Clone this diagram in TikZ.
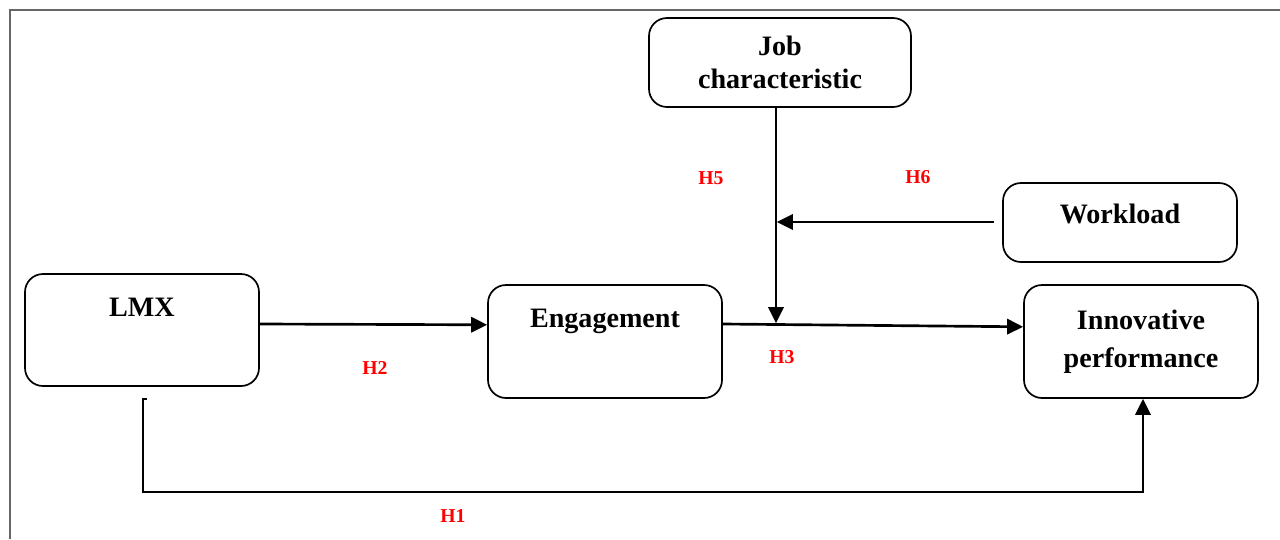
\documentclass[tikz,border=0pt]{standalone}
\usepackage{fontspec}
\setmainfont{Liberation Serif}
\usepackage{tikz}
\usetikzlibrary{arrows.meta, positioning, calc}

\begin{document}
\begin{tikzpicture}[
        box/.style={rectangle, draw=black, line width=1.2pt, fill=white, align=center, rounded corners=0.45cm, minimum width=5.85cm, font=\fontsize{20}{24}\selectfont\bfseries},
        topbox/.style={box, text height=0.5cm, text depth=1.2cm},
        arrow/.style={-{Triangle[length=0.4cm, width=0.38cm]}, line width=1.9pt},
        hyp/.style={text=red, font=\fontsize{14}{16}\selectfont\bfseries}
    ]
        \useasboundingbox (0,0) rectangle (32,-13.475);
        \draw[gray!80!black, line width=1.4pt] (0.25,-13.475) -- (0.25,-0.25) -- (32,-0.25);

        \node[topbox, minimum height=2.8cm] (lmx) at (3.55,-8.25) {LMX};
        \node[topbox, minimum height=2.825cm] (eng) at (15.125,-8.5375) {Engagement};
        \node[box, minimum height=2.825cm, font=\fontsize{20}{27}\selectfont\bfseries] (inn) at (28.525,-8.5375) {Innovative\\performance};
        \node[box, minimum width=6.55cm, minimum height=2.225cm, font=\fontsize{20}{23.5}\selectfont\bfseries] (job) at (19.5,-1.5625) {Job\\characteristic};
        \node[box, minimum height=1.975cm, text height=0.48cm, text depth=0.45cm] (wl) at (28.0,-5.5625) {Workload};

        \coordinate (mod) at (19.4,-8.08);
        \coordinate (modwl) at (19.42,-5.55);

        \draw[arrow] (lmx.east |- 0,-8.1) -- (eng.west |- 0,-8.12);
        \draw[arrow] (eng.east |- 0,-8.1) -- (inn.west |- 0,-8.17);
        \draw[arrow] (job.south -| mod) -- (mod);
        \draw[arrow] ([xshift=-0.2cm]wl.west |- modwl) -- (modwl);
        \draw[arrow] ($(lmx.south)+(0.125,-0.3)$) -- ++(-0.1,0) -- ++(0,-2.325) -| ($(inn.south)+(0.05,0)$);

        \node[hyp] (h5) at (17.775,-4.45) {H5};
        \node[hyp] (h6) at (22.95,-4.425) {H6};
        \node[hyp] (h2) at (9.375,-9.2) {H2};
        \node[hyp] (h3) at (19.55,-8.925) {H3};
        \node[hyp] (h1) at (11.325,-12.9) {H1};
    \end{tikzpicture}
\end{document}
